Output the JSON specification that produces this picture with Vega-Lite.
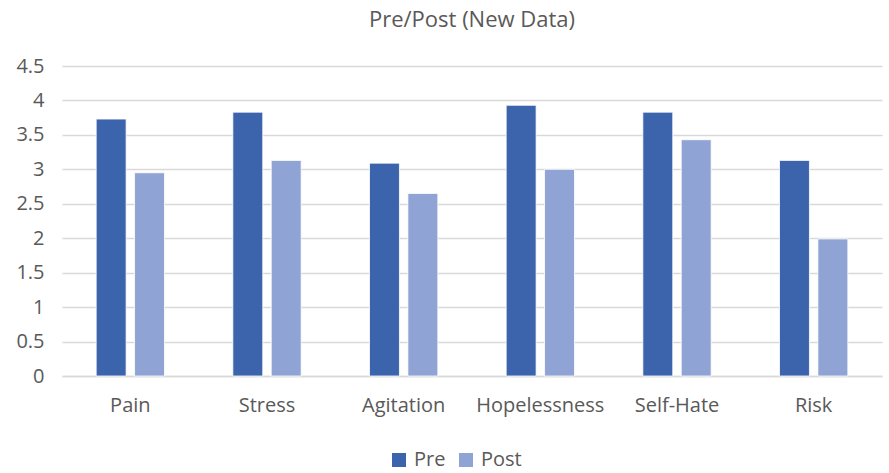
{
  "$schema": "https://vega.github.io/schema/vega-lite/v6.json",
  "autosize": {"type": "none"},
  "width": 820,
  "height": 310,
  "padding": {"left": 62, "top": 66, "right": 7, "bottom": 97},
  "background": "white",
  "title": {"text": "Pre/Post (New Data)", "fontSize": 22, "font": "Open Sans", "fontWeight": "normal", "color": "#595959", "offset": 24},
  "data": {"values": [
    {"measure": "Pain", "time": "Pre", "value": 3.73},
    {"measure": "Pain", "time": "Post", "value": 2.95},
    {"measure": "Stress", "time": "Pre", "value": 3.83},
    {"measure": "Stress", "time": "Post", "value": 3.13},
    {"measure": "Agitation", "time": "Pre", "value": 3.09},
    {"measure": "Agitation", "time": "Post", "value": 2.65},
    {"measure": "Hopelessness", "time": "Pre", "value": 3.93},
    {"measure": "Hopelessness", "time": "Post", "value": 3.0},
    {"measure": "Self-Hate", "time": "Pre", "value": 3.83},
    {"measure": "Self-Hate", "time": "Post", "value": 3.43},
    {"measure": "Risk", "time": "Pre", "value": 3.13},
    {"measure": "Risk", "time": "Post", "value": 1.99}
  ]},
  "mark": {"type": "bar", "stroke": "white", "strokeWidth": 0.8},
  "encoding": {
    "x": {
      "field": "measure", "type": "nominal",
      "sort": ["Pain", "Stress", "Agitation", "Hopelessness", "Self-Hate", "Risk"],
      "scale": {"paddingInner": 0.5, "paddingOuter": 0.25},
      "axis": {"title": null, "labelAngle": 0, "labelFontSize": 20, "labelFont": "Open Sans", "labelColor": "#595959", "ticks": false, "domainColor": "#d9d9d9", "domainWidth": 1.5, "labelPadding": 19}
    },
    "xOffset": {"field": "time", "type": "nominal", "sort": ["Pre", "Post"], "scale": {"paddingInner": 0.22}},
    "y": {
      "field": "value", "type": "quantitative",
      "scale": {"domain": [0, 4.5], "nice": false},
      "axis": {"title": null, "values": [0, 0.5, 1, 1.5, 2, 2.5, 3, 3.5, 4, 4.5], "format": "~g", "labelFontSize": 20, "labelFont": "Open Sans", "labelColor": "#595959", "ticks": false, "domain": false, "gridColor": "#d9d9d9", "gridWidth": 1.5, "labelPadding": 18}
    },
    "color": {
      "field": "time", "type": "nominal", "sort": ["Pre", "Post"],
      "scale": {"domain": ["Pre", "Post"], "range": ["#3C64AD", "#8FA3D4"]},
      "legend": {"title": null, "orient": "none", "legendX": 327, "legendY": 384, "direction": "horizontal", "symbolType": "square", "symbolSize": 196, "symbolStrokeWidth": 0, "labelFontSize": 20, "labelFont": "Open Sans", "labelColor": "#595959", "columnPadding": 10, "labelOffset": 5}
    }
  },
  "config": {"view": {"stroke": null}}
}
